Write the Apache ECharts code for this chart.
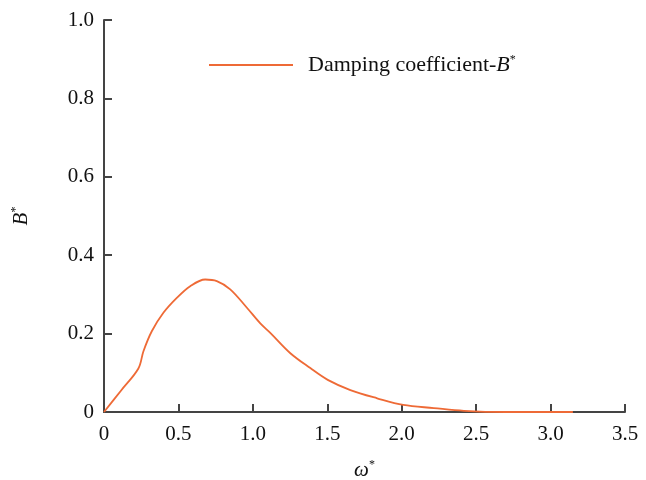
<!DOCTYPE html>
<html><head><meta charset="utf-8">
<script src="https://cdn.jsdelivr.net/npm/echarts@6/dist/echarts.min.js"></script>
<style>html,body{margin:0;padding:0;background:#fff}#c{width:646px;height:480px}</style>
</head><body><div id="c"></div>
<script>
var omega = [0, 0.115, 0.231, 0.265, 0.321, 0.399, 0.489, 0.579, 0.68, 0.758, 0.848, 0.960, 1.05, 1.117, 1.252, 1.386, 1.503, 1.655, 1.835, 2.01, 2.216, 2.418, 2.7, 3.0, 3.15];
var damping = [0, 0.055, 0.111, 0.155, 0.206, 0.253, 0.291, 0.321, 0.338, 0.334, 0.313, 0.266, 0.226, 0.202, 0.150, 0.112, 0.082, 0.056, 0.035, 0.018, 0.010, 0.003, 0.0, 0.0, 0.0];
var seriesName = 'Damping coefficient-B*';
var xTickLabels = ['0', '0.5', '1.0', '1.5', '2.0', '2.5', '3.0', '3.5'];
var yTickLabels = ['0', '0.2', '0.4', '0.6', '0.8', '1.0'];

var data = omega.map(function (x, i) { return [x, damping[i]]; });
var font = 'Liberation Serif';
var supRich = {
  i: { fontFamily: font, fontSize: 21, fontStyle: 'italic', color: '#111' },
  s: { fontFamily: font, fontSize: 12, color: '#111', verticalAlign: 'top', padding: [0, 0, 10, 0] }
};
var legendRich = {
  i: { fontFamily: font, fontSize: 22, fontStyle: 'italic', color: '#111' },
  s: { fontFamily: font, fontSize: 12, color: '#111', verticalAlign: 'top', padding: [0, 0, 10, 0] }
};
var chart = echarts.init(document.getElementById('c'));
chart.setOption({
  backgroundColor: '#fff',
  animation: false,
  grid: { left: 104, right: 21, top: 20, bottom: 68, containLabel: false, outerBoundsMode: 'none' },
  legend: {
    left: 204, top: 49,
    itemWidth: 84, itemHeight: 2,
    icon: 'rect',
    data: [seriesName],
    formatter: function () { return 'Damping coefficient-{i|B}{s|*}'; },
    textStyle: {
      fontFamily: font, fontSize: 22, color: '#111',
      padding: [0, 0, 0, 10],
      rich: legendRich
    }
  },
  xAxis: {
    type: 'value', min: 0, max: 3.5, interval: 0.5,
    name: '{i|ω}{s|*}', nameLocation: 'middle', nameGap: 47,
    nameTextStyle: { rich: supRich },
    axisLine: { show: true, lineStyle: { color: '#444', width: 2 } },
    axisTick: { show: true, inside: true, length: 8, lineStyle: { color: '#444', width: 2 } },
    splitLine: { show: false },
    axisLabel: { fontFamily: font, fontSize: 21, color: '#111', margin: 12,
      formatter: function (v) { return xTickLabels[Math.round(v / 0.5)]; } }
  },
  yAxis: {
    type: 'value', min: 0, max: 1.0, interval: 0.2,
    name: '{i|B}{s|*}', nameLocation: 'middle', nameGap: 72, nameRotate: 90,
    nameTextStyle: { rich: supRich },
    axisLine: { show: true, lineStyle: { color: '#444', width: 2 } },
    axisTick: { show: true, inside: true, length: 8, lineStyle: { color: '#444', width: 2 } },
    splitLine: { show: false },
    axisLabel: { fontFamily: font, fontSize: 21, color: '#111', margin: 10,
      formatter: function (v) { return yTickLabels[Math.round(v / 0.2)]; } }
  },
  series: [{
    name: seriesName, type: 'line', data: data, smooth: 0.35,
    showSymbol: false, symbol: 'none',
    lineStyle: { color: '#EE6A36', width: 1.8 },
    itemStyle: { color: '#EE6A36' }
  }]
});
</script></body></html>
